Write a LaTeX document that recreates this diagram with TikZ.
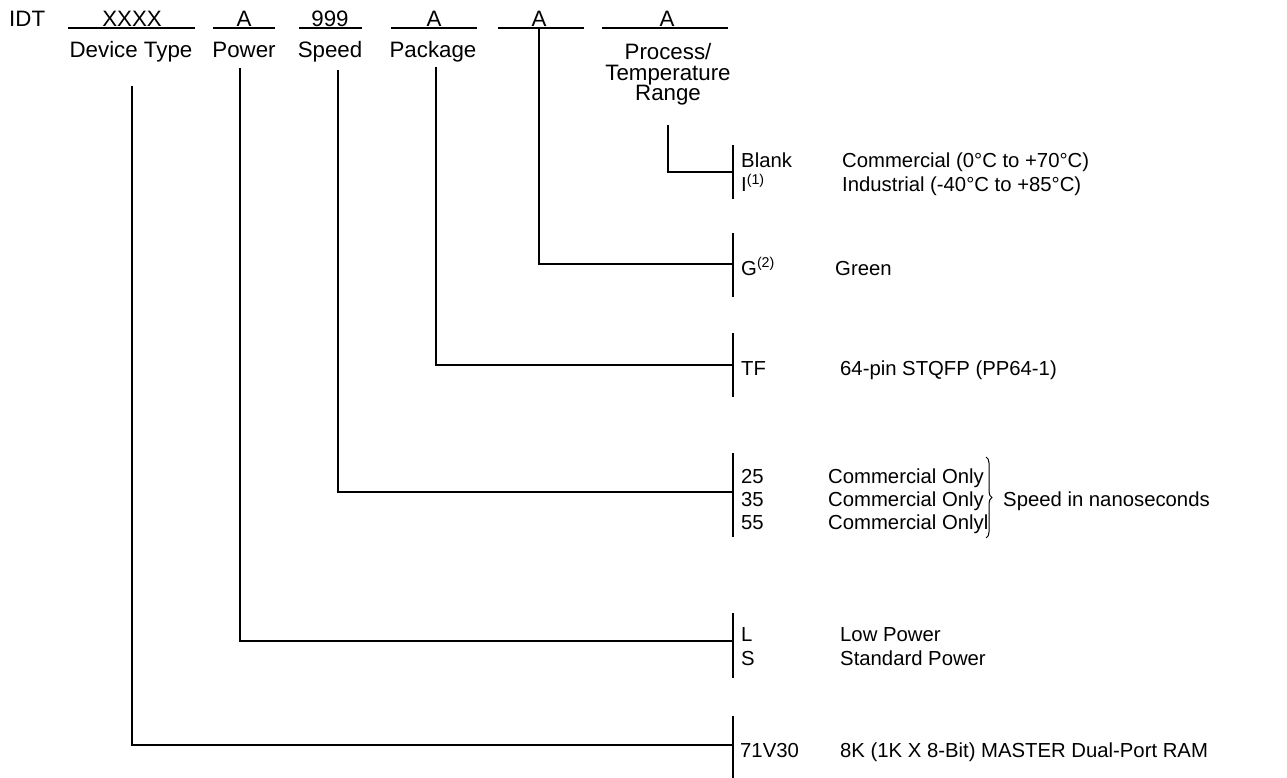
\documentclass[tikz,border=0pt]{standalone}
\usepackage{fontspec}
\setmainfont{Liberation Sans}
\usetikzlibrary{decorations.pathreplacing}

\tikzset{
  field/.style={anchor=base, inner sep=0pt, font=\fontsize{22.3}{20.5}\selectfont},
  code/.style={anchor=base west, inner sep=0pt},
  descr/.style={anchor=base west, inner sep=0pt},
  wire/.style={line width=1.2pt},
}

\begin{document}
\begin{tikzpicture}[x=1pt, y=-1pt, font=\fontsize{20.3}{24}\selectfont]

  \useasboundingbox (0,0) rectangle (1287,778);

  % --- Riga del codice d'ordine ---
  \node[field, anchor=base west] (idt) at (9,27) {IDT};
  \node[field] (devfield) at (132,27) {XXXX};
  \node[field] (powfield) at (244,27) {A};
  \node[field] (spdfield) at (330,27) {999};
  \node[field] (pkgfield) at (434,27) {A};
  \node[field] (grnfield) at (539,27) {A};
  \node[field] (prcfield) at (667,27) {A};

  \draw[wire] (68,28) -- (195,28);
  \draw[wire] (213,28) -- (275,28);
  \draw[wire] (299,28) -- (362,28);
  \draw[wire] (391,28) -- (477,28);
  \draw[wire] (498,28) -- (584,28);
  \draw[wire] (602,28) -- (728,28);

  % --- Nomi dei campi ---
  \node[field] (devlabel) at (131,58) {Device Type};
  \node[field] (powlabel) at (244,58) {Power};
  \node[field] (spdlabel) at (330,58) {Speed};
  \node[field] (pkglabel) at (433,58) {Package};
  \node[field, anchor=north, align=center] (prclabel) at (668,43.5)
        {Process/\\Temperature\\Range};

  % --- Punti di partenza dei collegamenti ---
  \coordinate (devtop) at (132,86);
  \coordinate (powtop) at (240,68);
  \coordinate (spdtop) at (338,70);
  \coordinate (pkgtop) at (436,67);
  \coordinate (grntop) at (539,28);
  \coordinate (prctop) at (668,125);

  % --- Barre verticali delle opzioni ---
  \coordinate (prcbar) at (733,172);
  \coordinate (grnbar) at (733,264);
  \coordinate (pkgbar) at (733,365);
  \coordinate (spdbar) at (733,492);
  \coordinate (powbar) at (733,641);
  \coordinate (devbar) at (733,745);

  \draw[wire] (733,145) -- (733,199);
  \draw[wire] (733,233) -- (733,297);
  \draw[wire] (733,333) -- (733,397);
  \draw[wire] (733,453) -- (733,537);
  \draw[wire] (733,613) -- (733,678);
  \draw[wire] (733,716) -- (733,778);

  % --- Collegamenti ---
  \draw[wire] (prctop) |- (prcbar);
  \draw[wire] (grntop) |- (grnbar);
  \draw[wire] (pkgtop) |- (pkgbar);
  \draw[wire] (spdtop) |- (spdbar);
  \draw[wire] (powtop) |- (powbar);
  \draw[wire] (devtop) |- (devbar);

  % --- Opzioni: Process/Temperature ---
  \node[code] (blank) at (741,168) {Blank};
  \node[code] (ind) at (741,192) {I\textsuperscript{(1)}};
  \node[descr] (commtemp) at (842,168) {Commercial (0°C to +70°C)};
  \node[descr] (indtemp) at (842,192) {Industrial (-40°C to +85°C)};

  % --- Opzioni: Green ---
  \node[code] (g) at (741,275) {G\textsuperscript{(2)}};
  \node[descr] (green) at (835,275) {Green};

  % --- Opzioni: Package ---
  \node[code] (tf) at (741,375) {TF};
  \node[descr] (stqfp) at (840,375) {64-pin STQFP (PP64-1)};

  % --- Opzioni: Speed ---
  \node[code] (s25) at (741,483) {25};
  \node[code] (s35) at (741,506) {35};
  \node[code] (s55) at (741,529) {55};
  \node[descr] (c25) at (828,483) {Commercial Only};
  \node[descr] (c35) at (828,506) {Commercial Only};
  \node[descr] (c55) at (828,529) {Commercial Onlyl};
  \draw[line width=1pt, decorate, decoration={brace, amplitude=6pt}]
    (986,457) -- (986,538);
  \node[descr] (nsec) at (1003,506) {Speed in nanoseconds};

  % --- Opzioni: Power ---
  \node[code] (low) at (741,641) {L};
  \node[code] (std) at (741,665) {S};
  \node[descr] (lowpow) at (840,641) {Low Power};
  \node[descr] (stdpow) at (840,665) {Standard Power};

  % --- Opzioni: Device Type ---
  \node[code] (dev) at (740,757) {71V30};
  \node[descr] (devdesc) at (840,757) {8K (1K X 8-Bit) MASTER Dual-Port RAM};

\end{tikzpicture}
\end{document}
